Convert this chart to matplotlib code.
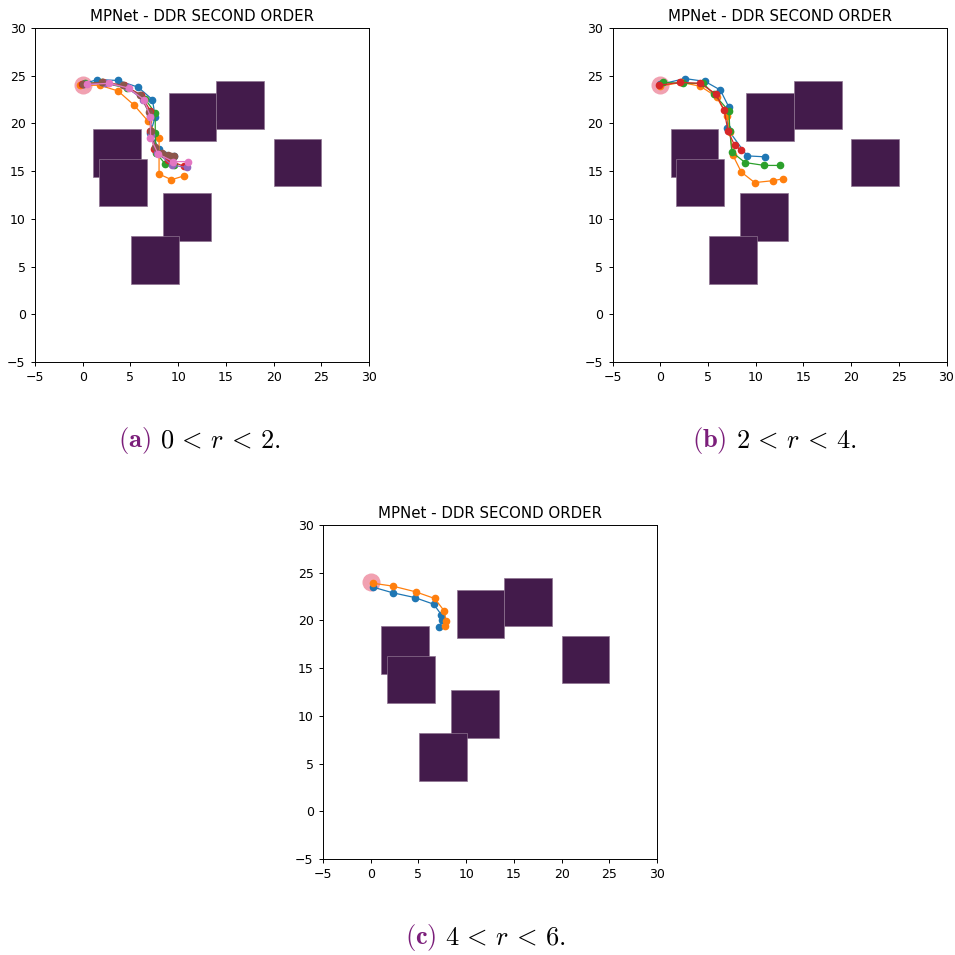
# Modules
import matplotlib
matplotlib.use("Agg")
from matplotlib import pyplot as plt
from matplotlib.patches import Rectangle

plt.rcParams['mathtext.fontset'] = 'cm'

# Obstacles (lower-left corners, each 5 x 5)
obstacle_x = [1.1, 1.7, 9.0, 14.0, 20.0, 8.4, 5.1]
obstacle_y = [14.4, 11.3, 18.2, 19.4, 13.4, 7.7, 3.2]
obstacle_size = 5.0

# Start point
start_x = 0.0
start_y = 24.0

# Panel (a) paths: 0 < r < 2
a_blue_x = [0.0, 1.5, 3.7, 5.8, 7.3, 7.6, 7.1, 8.0, 9.6]
a_blue_y = [24.1, 24.6, 24.5, 23.8, 22.5, 20.7, 19.0, 17.3, 16.6]
a_orange_x = [-0.3, 1.8, 3.7, 5.4, 6.8, 8.0, 8.0, 9.3, 10.6]
a_orange_y = [24.0, 24.0, 23.4, 21.9, 20.3, 18.5, 14.7, 14.1, 14.5]
a_green_x = [0.2, 2.0, 4.6, 6.5, 7.6, 7.6, 7.7, 8.6, 9.6]
a_green_y = [24.2, 24.3, 23.7, 22.6, 21.1, 19.0, 16.9, 15.8, 15.6]
a_red_x = [-0.1, 2.1, 4.3, 6.1, 7.1, 7.1, 7.5, 8.9, 10.6]
a_red_y = [24.1, 24.3, 24.0, 23.0, 21.3, 19.2, 17.3, 16.2, 15.5]
a_purple_x = [0.1, 2.3, 4.6, 6.3, 7.1, 7.2, 7.8, 9.4, 10.9]
a_purple_y = [24.1, 24.2, 23.8, 22.5, 20.8, 18.8, 16.9, 15.6, 15.4]
a_brown_x = [0.0, 2.0, 4.2, 6.0, 6.9, 7.2, 7.6, 8.3, 8.9, 9.3, 9.6]
a_brown_y = [24.1, 24.3, 24.0, 23.0, 21.2, 19.2, 17.5, 16.9, 16.7, 16.6, 16.6]
a_pink_x = [0.5, 2.8, 4.8, 6.4, 7.1, 7.1, 7.9, 9.5, 11.0]
a_pink_y = [24.1, 24.2, 23.7, 22.5, 20.7, 18.5, 16.8, 16.0, 16.0]

# Panel (b) paths: 2 < r < 4
b_blue_x = [0.0, 2.6, 4.7, 6.3, 7.2, 7.0, 9.1, 11.0]
b_blue_y = [24.1, 24.7, 24.4, 23.5, 21.7, 19.5, 16.6, 16.5]
b_orange_x = [0.0, 2.2, 4.2, 5.9, 7.0, 7.3, 7.6, 8.5, 9.9, 11.8, 12.9]
b_orange_y = [23.9, 24.3, 23.9, 22.8, 20.8, 19.1, 16.7, 14.9, 13.8, 14.0, 14.2]
b_green_x = [0.3, 2.4, 4.5, 5.6, 7.2, 7.3, 7.5, 8.9, 10.9, 12.6]
b_green_y = [24.3, 24.2, 24.2, 23.1, 21.3, 19.2, 17.0, 15.9, 15.6, 15.6]
b_red_x = [-0.1, 2.1, 4.2, 5.8, 6.7, 7.1, 7.8, 8.5]
b_red_y = [24.0, 24.3, 24.2, 23.1, 21.4, 19.2, 17.7, 17.2]

# Panel (c) paths: 4 < r < 6
c_blue_x = [0.2, 2.3, 4.6, 6.6, 7.4, 7.5, 7.2]
c_blue_y = [23.5, 22.9, 22.4, 21.7, 20.6, 20.0, 19.3]
c_orange_x = [0.2, 2.3, 4.7, 6.7, 7.7, 7.9, 7.8]
c_orange_y = [23.9, 23.6, 23.0, 22.3, 21.0, 19.9, 19.4]

panel_a = [(a_blue_x, a_blue_y), (a_orange_x, a_orange_y), (a_green_x, a_green_y),
           (a_red_x, a_red_y), (a_purple_x, a_purple_y), (a_brown_x, a_brown_y),
           (a_pink_x, a_pink_y)]
panel_b = [(b_blue_x, b_blue_y), (b_orange_x, b_orange_y), (b_green_x, b_green_y),
           (b_red_x, b_red_y)]
panel_c = [(c_blue_x, c_blue_y), (c_orange_x, c_orange_y)]

captions = ["(a)", "(b)", "(c)"]
caption_math = [r"$0\,<\,r\,<\,2.$", r"$2\,<\,r\,<\,4.$", r"$4\,<\,r\,<\,6.$"]

W = 955.0
fig = plt.figure(figsize=(9.55, 9.55), dpi=100)


def draw_panel(left_px, top_px, paths):
    ax = fig.add_axes([left_px / W, 1 - (top_px + 334) / W, 334 / W, 334 / W])
    for ox, oy in zip(obstacle_x, obstacle_y):
        ax.add_patch(Rectangle((ox, oy), obstacle_size, obstacle_size,
                               facecolor='#431b4b', edgecolor='#8e7391', lw=0.5))
    ax.plot(start_x, start_y, 'o', color='crimson', alpha=0.4, ms=13, mew=0)
    for px, py in paths:
        ax.plot(px, py, '-o', lw=0.9, ms=4.5)
    ax.set_xlim(-5, 30)
    ax.set_ylim(-5, 30)
    ax.set_title("MPNet - DDR SECOND ORDER", fontsize=10.8, pad=5)
    ax.tick_params(labelsize=9, length=3.2, width=0.7)
    for s in ax.spines.values():
        s.set_linewidth(0.7)
    return ax


draw_panel(35, 28, panel_a)
draw_panel(612.5, 28, panel_b)
draw_panel(323, 525, panel_c)

# Captions
cap_pos = [(151, 160, 447), (727, 736, 447), (437, 445, 944)]
for lab, mt, (xl, xm, yb) in zip(captions, caption_math, cap_pos):
    fig.text(xl / W, 1 - yb / W, r"$\mathbf{" + lab + "}$", color='#7b1e7a',
             fontsize=19, ha='right', va='baseline')
    fig.text(xm / W, 1 - yb / W, mt, fontsize=19, ha='left', va='baseline')

plt.savefig("out.png", dpi=100)
